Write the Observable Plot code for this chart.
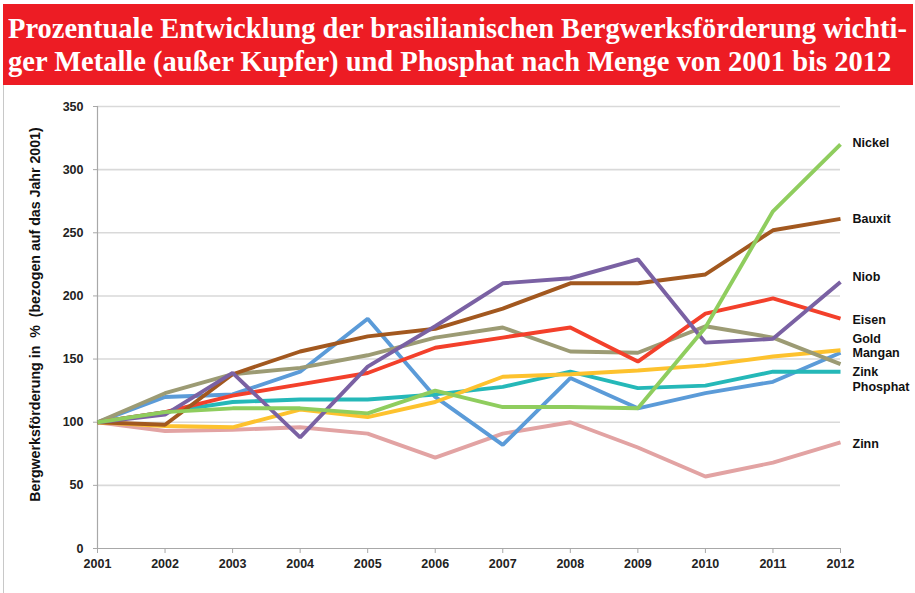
<!DOCTYPE html>
<html>
<head>
<meta charset="utf-8">
<script src="https://cdn.jsdelivr.net/npm/d3@7"></script>
<script src="https://cdn.jsdelivr.net/npm/@observablehq/plot@0.6"></script>
<style>
  html, body { margin: 0; padding: 0; background: #fff; }
  body { width: 915px; height: 593px; position: relative; overflow: hidden; }
  #title {
    position: absolute; left: 3px; top: 4px; width: 910px; height: 81px;
    background: #ed1c24; color: #fff; box-sizing: border-box;
    padding: 7px 0 0 5px; overflow: hidden;
  }
  #title .inner {
    display: inline-block; white-space: nowrap; transform-origin: 0 0;
    font-family: "Liberation Serif", "DejaVu Serif", serif; font-weight: bold;
    font-size: 30px; line-height: 33px;
  }
  #frame { position: absolute; left: 3px; top: 85px; width: 1px; height: 508px; background: #c8c8c8; }
  #chart { position: absolute; left: 0; top: 88px; }
</style>
</head>
<body>
<div id="title"><span class="inner" id="titleInner">Prozentuale Entwicklung der brasilianischen Bergwerksförderung wichti-<br>ger Metalle (außer Kupfer) und Phosphat nach Menge von 2001 bis 2012</span></div>
<div id="frame"></div>
<div id="chart"></div>
<script>
const years = [2001, 2002, 2003, 2004, 2005, 2006, 2007, 2008, 2009, 2010, 2011, 2012];
const yTicks = [0, 50, 100, 150, 200, 250, 300, 350];

const zinn     = [100, 93, 94, 96, 91, 72, 91, 100, 80, 57, 68, 84];
const phosphat = [100, 120, 122, 140, 182, 120, 82, 135, 111, 123, 132, 155];
const zink     = [100, 108, 116, 118, 118, 122, 128, 140, 127, 129, 140, 140];
const mangan   = [100, 97, 96, 110, 104, 116, 136, 138, 141, 145, 152, 157];
const gold     = [100, 123, 138, 143, 153, 167, 175, 156, 155, 176, 167, 146];
const eisen    = [100, 108, 121, 130, 139, 159, 167, 175, 148, 186, 198, 182];
const bauxit   = [100, 98, 138, 156, 168, 174, 190, 210, 210, 217, 252, 261];
const niob     = [100, 106, 139, 88, 144, 176, 210, 214, 229, 163, 166, 211];
const nickel   = [100, 108, 111, 111, 107, 125, 112, 112, 111, 175, 267, 320];

const seriesNames  = ["Zinn", "Phosphat", "Zink", "Mangan", "Gold", "Eisen", "Bauxit", "Niob", "Nickel"];
const seriesValues = [zinn, phosphat, zink, mangan, gold, eisen, bauxit, niob, nickel];
const seriesColors = ["#e2a3a3", "#5b9bd8", "#25b8b8", "#fdc22e", "#9c9b74", "#f3402b", "#a2581f", "#7a61a3", "#8fcd5e"];

// right-hand labels (label text and the value height at which each sits)
const labelNames  = ["Nickel", "Bauxit", "Niob", "Eisen", "Gold", "Mangan", "Zink", "Phosphat", "Zinn"];
const labelValues = [321, 261, 215, 181, 165.5, 154.5, 140, 127.5, 82.5];

const data = seriesNames.flatMap((name, s) =>
  seriesValues[s].map((v, i) => ({name, year: years[i], value: v})));
const labels = labelNames.map((name, i) => ({name, year: 2012, value: labelValues[i]}));

const font = "'Liberation Sans', Arial, sans-serif";

const chart = Plot.plot({
  width: 915,
  height: 505,
  marginLeft: 97,
  marginRight: 75,
  marginTop: 18,
  marginBottom: 45,
  style: {fontFamily: font, background: "transparent", overflow: "visible"},
  x: {domain: [2001, 2012], label: null},
  y: {domain: [0, 350], label: null},
  color: {domain: seriesNames, range: seriesColors},
  marks: [
    Plot.gridY(yTicks.filter(d => d > 0), {stroke: "#d9d9d9", strokeOpacity: 1, strokeWidth: 1.6}),
    Plot.axisY({ticks: yTicks, tickSize: 4, tickPadding: 10, stroke: "#a8a8a8", fill: "#222",
      fontSize: 12.5, fontWeight: "bold", label: null}),
    Plot.axisX({ticks: years, tickFormat: d => String(d), tickSize: 5, tickPadding: 6, stroke: "#a8a8a8",
      fill: "#222", fontSize: 12.5, fontWeight: "bold", label: null}),
    Plot.ruleX([2001], {stroke: "#a8a8a8", strokeWidth: 1.2}),
    Plot.ruleY([0], {stroke: "#a8a8a8", strokeWidth: 1.2}),
    Plot.line(data, {x: "year", y: "value", z: "name", stroke: "name", strokeWidth: 3.9,
      strokeLinejoin: "miter", strokeLinecap: "butt"}),
    Plot.text(labels, {x: "year", y: "value", text: "name", dx: 12, textAnchor: "start",
      fontSize: 12.5, fontWeight: "bold", fill: "#111"}),
    Plot.text(["Bergwerksförderung in  %  (bezogen auf das Jahr 2001)"], {
      frameAnchor: "left", dx: -62, dy: -13, rotate: -90, fontSize: 14.2, fontWeight: "bold", fill: "#111",
      textAnchor: "middle"
    })
  ]
});
document.getElementById("chart").appendChild(chart);

// fit title lines horizontally to the band
const inner = document.getElementById("titleInner");
const w = inner.getBoundingClientRect().width;
const target = 899;
inner.style.transform = `scaleX(${target / w})`;
</script>
</body>
</html>
